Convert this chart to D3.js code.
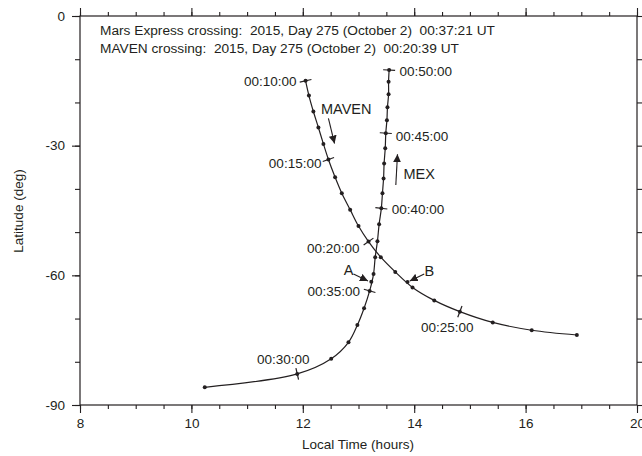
<!DOCTYPE html>
<html>
<head>
<meta charset="utf-8">
<script src="https://cdn.jsdelivr.net/npm/d3@7"></script>
<style>
  body { margin: 0; background: #fff; }
  svg text { font-family: "Liberation Sans", Arial, sans-serif; fill: #231f20; }
</style>
</head>
<body>
<svg width="642" height="456"></svg>
<script>
// MAVEN orbit track, one point per minute (00:10 .. 00:28)
let mavenMin = [10, 11, 12, 13, 14, 15, 16, 17, 18, 19, 20, 21, 22, 23, 24, 25, 26, 27, 28];
let mavenLT = [12.05, 12.11, 12.19, 12.28, 12.37, 12.46, 12.58, 12.70, 12.85, 13.00, 13.18, 13.40, 13.66, 13.97, 14.36, 14.82, 15.41, 16.11, 16.92];
let mavenLat = [-15.0, -18.4, -22.1, -25.8, -29.6, -33.2, -37.3, -41.0, -44.8, -48.6, -52.2, -55.8, -59.2, -62.8, -65.8, -68.4, -70.9, -72.7, -73.8];

// Mars Express track (00:29 .. 00:50)
let mexMin = [29, 30, 31, 32, 33, 34, 35, 36, 37, 38, 39, 40, 41, 42, 43, 44, 45, 46, 47, 48, 49, 50];
let mexLT = [10.24, 11.90, 12.51, 12.82, 12.98, 13.10, 13.20, 13.27, 13.30, 13.34, 13.37, 13.41, 13.43, 13.45, 13.46, 13.48, 13.49, 13.51, 13.52, 13.54, 13.54, 13.55];
let mexLat = [-85.9, -82.8, -79.3, -75.5, -71.5, -67.6, -63.6, -59.7, -55.8, -52.1, -48.2, -44.5, -41.0, -37.6, -34.1, -30.6, -27.1, -24.1, -21.1, -18.1, -15.2, -12.5];

// minutes that get a cross tick + time label
let labeledMin = [10, 15, 20, 25, 30, 35, 40, 45, 50];

// extra points A (MEX) and B (MAVEN)
let eventName = ["A", "B"];
let eventLT = [13.23, 13.88];
let eventLat = [-61.5, -61.55];

// axis ticks (the last tick is printed "20" in the original figure)
let xTickValues = [8, 10, 12, 14, 16, 18];
let xTickLabels = ["8", "10", "12", "14", "16", "20"];
let yTickValues = [-90, -60, -30, 0];

let headerLines = [
  "Mars Express crossing:  2015, Day 275 (October 2)  00:37:21 UT",
  "MAVEN crossing:  2015, Day 275 (October 2)  00:20:39 UT",
];

let svg = d3.select("svg");
let ink = "#231f20";
let fontSize = 13.5;

let x = d3.scaleLinear().domain([8, 18]).range([80, 637]);
let y = d3.scaleLinear().domain([-90, 0]).range([405, 16]);

// arrowhead
svg.append("defs").append("marker")
  .attr("id", "head")
  .attr("viewBox", "0 0 10 10")
  .attr("refX", 10).attr("refY", 5)
  .attr("markerWidth", 8).attr("markerHeight", 8)
  .attr("markerUnits", "userSpaceOnUse")
  .attr("orient", "auto")
  .append("path").attr("d", "M0,0 L10,5 L0,10 Z").attr("fill", ink);

// axes: minor + major ticks, all pointing outwards
function styleAxis(g) {
  g.select(".domain").remove();
  g.selectAll("line").attr("stroke", ink).attr("stroke-width", 1.1);
  g.selectAll("text").attr("font-size", fontSize).attr("fill", ink)
    .attr("font-family", "Liberation Sans, Arial, sans-serif");
}
let xMinor = d3.range(8, 18.01, 0.5);
let yMinor = d3.range(-90, 0.1, 10);

svg.append("g").attr("transform", "translate(0,405)")
  .call(d3.axisBottom(x).tickValues(xMinor).tickSize(4).tickFormat("")).call(styleAxis);
svg.append("g").attr("transform", "translate(0,405)")
  .call(d3.axisBottom(x).tickValues(xTickValues).tickSize(8).tickPadding(5)
    .tickFormat((d, i) => xTickLabels[i])).call(styleAxis);
svg.append("g").attr("transform", "translate(0,16)")
  .call(d3.axisTop(x).tickValues(xMinor).tickSize(4).tickFormat("")).call(styleAxis);
svg.append("g").attr("transform", "translate(0,16)")
  .call(d3.axisTop(x).tickValues(xTickValues).tickSize(8).tickFormat("")).call(styleAxis);
svg.append("g").attr("transform", "translate(80,0)")
  .call(d3.axisLeft(y).tickValues(yMinor).tickSize(5).tickFormat("")).call(styleAxis);
svg.append("g").attr("transform", "translate(80,0)")
  .call(d3.axisLeft(y).tickValues(yTickValues).tickSize(8).tickPadding(7)
    .tickFormat((d) => String(d))).call(styleAxis); // plain hyphen, like the original
svg.append("g").attr("transform", "translate(637,0)")
  .call(d3.axisRight(y).tickValues(yMinor).tickSize(5).tickFormat("")).call(styleAxis);

// frame
svg.append("rect")
  .attr("x", x(8)).attr("y", y(0))
  .attr("width", x(18) - x(8)).attr("height", y(-90) - y(0))
  .attr("fill", "none").attr("stroke", ink).attr("stroke-width", 1.2);

// axis titles
svg.append("text").attr("x", 358).attr("y", 449)
  .attr("text-anchor", "middle").attr("font-size", fontSize).text("Local Time (hours)");
svg.append("text").attr("transform", "translate(23,211) rotate(-90)")
  .attr("text-anchor", "middle").attr("font-size", fontSize).text("Latitude (deg)");

// header
svg.selectAll(".header").data(headerLines).enter().append("text")
  .attr("class", "header")
  .attr("x", x(8.36)).attr("y", (d, i) => y(-3.24 - i * 4.23))
  .attr("dy", "0.35em")
  .attr("font-size", 13.7)
  .style("white-space", "pre")
  .text((d) => d);

// build series
let series = [
  { name: "MAVEN", pts: mavenMin.map((m, i) => ({ m: m, lt: mavenLT[i], lat: mavenLat[i] })) },
  { name: "MEX", pts: mexMin.map((m, i) => ({ m: m, lt: mexLT[i], lat: mexLat[i] })) },
];

let line = d3.line()
  .x((d) => x(d.lt))
  .y((d) => y(d.lat))
  .curve(d3.curveCatmullRom.alpha(0.5));

// label placement next to each labeled minute
let labelPos = {
  10: ["end", -9, 0], 15: ["end", -7, 3.4], 20: ["end", -9, 6.6], 25: ["middle", -12.5, 15.7],
  30: ["middle", -14, -15], 35: ["end", -9.5, 0], 40: ["start", 10.5, 1], 45: ["start", 10, 2.7],
  50: ["start", 10.3, 1.7],
};

series.forEach((s) => {
  let g = svg.append("g");
  g.append("path").attr("d", line(s.pts))
    .attr("fill", "none").attr("stroke", ink).attr("stroke-width", 1.2);

  g.selectAll("circle").data(s.pts).enter().append("circle")
    .attr("cx", (d) => x(d.lt)).attr("cy", (d) => y(d.lat))
    .attr("r", 2).attr("fill", ink);

  // cross ticks perpendicular to the track
  s.pts.forEach((d, i) => {
    if (!labeledMin.includes(d.m)) return;
    let a = s.pts[Math.max(0, i - 1)];
    let b = s.pts[Math.min(s.pts.length - 1, i + 1)];
    let dx = x(b.lt) - x(a.lt), dy = y(b.lat) - y(a.lat);
    let len = Math.hypot(dx, dy);
    let nx = -dy / len * 6, ny = dx / len * 6;
    let px = x(d.lt), py = y(d.lat);
    g.append("line")
      .attr("x1", px - nx).attr("y1", py - ny)
      .attr("x2", px + nx).attr("y2", py + ny)
      .attr("stroke", ink).attr("stroke-width", 1.2);
    let p = labelPos[d.m];
    g.append("text")
      .attr("x", px + p[1]).attr("y", py + p[2]).attr("dy", "0.35em")
      .attr("text-anchor", p[0]).attr("font-size", fontSize)
      .text("00:" + String(d.m).padStart(2, "0") + ":00");
  });
});

// A / B event dots
svg.selectAll(".event").data(eventName).enter().append("circle")
  .attr("class", "event")
  .attr("cx", (d, i) => x(eventLT[i])).attr("cy", (d, i) => y(eventLat[i]))
  .attr("r", 2).attr("fill", ink);

// annotations: text [lt, lat], arrow from -> to
let notes = [
  { text: "MAVEN", at: [12.78, -21.6], from: [12.46, -23.7], to: [12.57, -29.5], size: 14.5 },
  { text: "MEX", at: [14.09, -36.6], from: [13.67, -39.1], to: [13.70, -32.0], size: 14.5 },
  { text: "A", at: [12.82, -58.8], from: [12.91, -59.7], to: [13.17, -61.3], size: 14.5 },
  { text: "B", at: [14.27, -58.9], from: [14.18, -59.7], to: [13.92, -61.3], size: 14.5 },
];
notes.forEach((n) => {
  svg.append("text")
    .attr("x", x(n.at[0])).attr("y", y(n.at[1])).attr("dy", "0.35em")
    .attr("text-anchor", "middle").attr("font-size", n.size).text(n.text);
  svg.append("line")
    .attr("x1", x(n.from[0])).attr("y1", y(n.from[1]))
    .attr("x2", x(n.to[0])).attr("y2", y(n.to[1]))
    .attr("stroke", ink).attr("stroke-width", 1.1)
    .attr("marker-end", "url(#head)");
});
</script>
</body>
</html>
